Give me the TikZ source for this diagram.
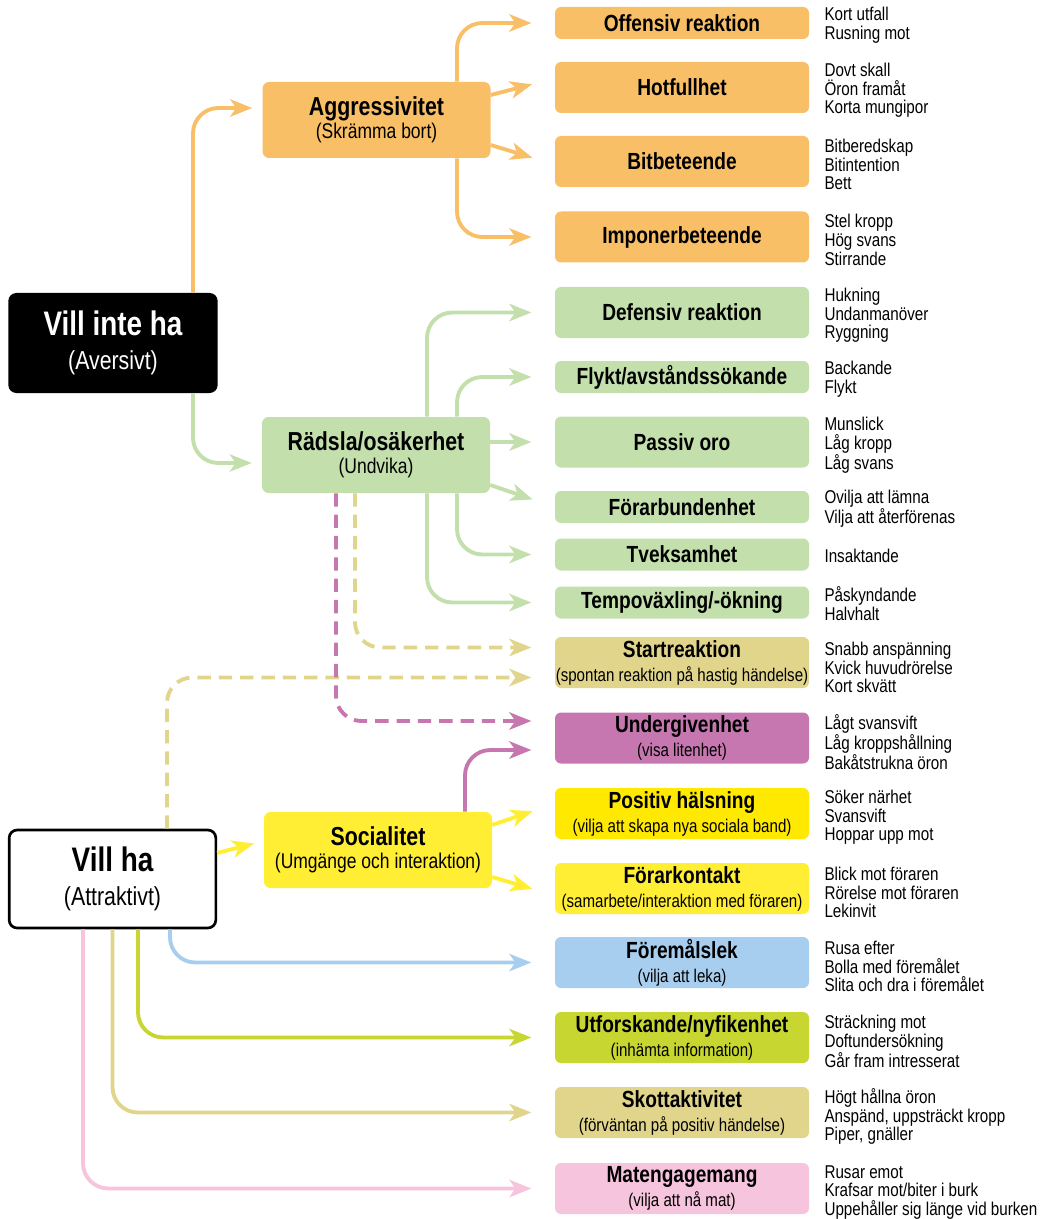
\documentclass[tikz,border=0pt]{standalone}
\usepackage{fontspec}
\setmainfont{Liberation Sans}[FakeStretch=0.82]
\usetikzlibrary{arrows.meta,calc}
\definecolor{cOr}{HTML}{F9BF66}
\definecolor{cGr}{HTML}{C3DFAC}
\definecolor{cKh}{HTML}{E1D58B}
\definecolor{cMa}{HTML}{C677B0}
\definecolor{cYb}{HTML}{FFE900}
\definecolor{cYe}{HTML}{FFEE33}
\definecolor{cBl}{HTML}{A7CEEE}
\definecolor{cLi}{HTML}{C7D630}
\definecolor{cPi}{HTML}{F6C4DD}
\newcommand\fBig{\fontsize{25.5}{25}\selectfont\bfseries}
\newcommand\fBigSub{\fontsize{19.5}{25}\selectfont}
\newcommand\fMid{\fontsize{19.5}{17.5}\selectfont\bfseries}
\newcommand\fMidSub{\fontsize{16}{17.5}\selectfont}
\newcommand\fRt{\fontsize{17.5}{18}\selectfont\bfseries}
\newcommand\fRs{\fontsize{13.8}{18}\selectfont}
\newcommand\fDesc{\fontsize{13.9}{14}\selectfont}
\begin{document}
\begin{tikzpicture}[x=0.75pt,y=-0.75pt,
  bigbox/.style={rounded corners=6pt, minimum width=157pt, minimum height=75pt, inner sep=0pt, align=center, font=\fBigSub},
  midbox/.style={rounded corners=5pt, fill=#1, minimum width=171pt, minimum height=57pt, inner sep=0pt, align=center, font=\fMidSub},
  rbox/.style={rounded corners=4.5pt, fill=#1, minimum width=190.5pt, inner sep=0pt, align=center, font=\fRs},
  hA/.style={minimum height=24pt},
  hB/.style={minimum height=38.25pt},
  desc/.style={anchor=west, align=left, inner sep=0pt, font=\fDesc},
  ln/.style={draw=#1, line width=2.9pt, rounded corners=19pt, -{Stealth[length=16.5pt,width=13pt,inset=4.5pt]}},
  dsh/.style={dash pattern=on 10pt off 6pt},
  rshort/.style={shorten >=17.5pt},
  mshort/.style={shorten >=7.5pt}]
\useasboundingbox (0,0) rectangle (1054,1219);

% main nodes
\node[bigbox, fill=black, text=white] (vi) at (113,343) {{\fBig Vill inte ha}\\(Aversivt)};
\node[bigbox, draw=black, line width=2pt, fill=white, minimum width=155pt, minimum height=73.5pt] (vh) at (112.5,879) {{\fBig Vill ha}\\(Attraktivt)};
\node[midbox=cOr] (agg) at (376.5,120) {{\fMid Aggressivitet}\\(Skrämma bort)};
\node[midbox=cGr] (rad) at (376,455) {{\fMid Rädsla/osäkerhet}\\(Undvika)};
\node[midbox=cYe] (soc) at (378,850) {{\fMid Socialitet}\\(Umgänge och interaktion)};

% right boxes
\node[rbox=cOr, hA] (off) at (682,23) {{\fRt Offensiv reaktion}};
\node[rbox=cOr, hB] (hot) at (682,87.5) {{\fRt Hotfullhet}};
\node[rbox=cOr, hB] (bit) at (682,161.5) {{\fRt Bitbeteende}};
\node[rbox=cOr, hB] (imp) at (682,237) {{\fRt Imponerbeteende}};
\node[rbox=cGr, hB] (def) at (682,312.5) {{\fRt Defensiv reaktion}};
\node[rbox=cGr, hA] (fly) at (682,377) {{\fRt Flykt/avståndssökande}};
\node[rbox=cGr, hB] (pas) at (682,442) {{\fRt Passiv oro}};
\node[rbox=cGr, hA] (forb) at (682,507) {{\fRt Förarbundenhet}};
\node[rbox=cGr, hA] (tve) at (682,554.5) {{\fRt Tveksamhet}};
\node[rbox=cGr, hA] (tem) at (682,602.5) {{\fRt Tempoväxling/-ökning}};
\node[rbox=cKh, hB] (sta) at (682,662.5) {{\fRt Startreaktion}\\(spontan reaktion på hastig händelse)};
\node[rbox=cMa, hB] (und) at (682,738) {{\fRt Undergivenhet}\\(visa litenhet)};
\node[rbox=cYb, hB] (pos) at (682,813.5) {{\fRt Positiv hälsning}\\(vilja att skapa nya sociala band)};
\node[rbox=cYe, hB] (fk) at (682,888.5) {{\fRt Förarkontakt}\\(samarbete/interaktion med föraren)};
\node[rbox=cBl, hB] (fol) at (682,962.5) {{\fRt Föremålslek}\\(vilja att leka)};
\node[rbox=cLi, hB] (utf) at (682,1037.5) {{\fRt Utforskande/nyfikenhet}\\(inhämta information)};
\node[rbox=cKh, hB] (sko) at (682,1112.5) {{\fRt Skottaktivitet}\\(förväntan på positiv händelse)};
\node[rbox=cPi, hB] (mat) at (682,1188.5) {{\fRt Matengagemang}\\(vilja att nå mat)};

% descriptions
\node[desc] (doff) at ($(off.east)+(15,2)$) {Kort utfall\\Rusning mot};
\node[desc] (dhot) at ($(hot.east)+(15,3)$) {Dovt skall\\Öron framåt\\Korta mungipor};
\node[desc] (dbit) at ($(bit.east)+(15,3)$) {Bitberedskap\\Bitintention\\Bett};
\node[desc] (dimp) at ($(imp.east)+(15,3)$) {Stel kropp\\Hög svans\\Stirrande};
\node[desc] (ddef) at ($(def.east)+(15,3)$) {Hukning\\Undanmanöver\\Ryggning};
\node[desc] (dfly) at ($(fly.east)+(15,2)$) {Backande\\Flykt};
\node[desc] (dpas) at ($(pas.east)+(15,3)$) {Munslick\\Låg kropp\\Låg svans};
\node[desc] (dforb) at ($(forb.east)+(15,2)$) {Ovilja att lämna\\Vilja att återförenas};
\node[desc] (dtve) at ($(tve.east)+(15,1)$) {Insaktande};
\node[desc] (dtem) at ($(tem.east)+(15,1)$) {Påskyndande\\Halvhalt};
\node[desc] (dsta) at ($(sta.east)+(15,5)$) {Snabb anspänning\\Kvick huvudrörelse\\Kort skvätt};
\node[desc] (dund) at ($(und.east)+(15,4)$) {Lågt svansvift\\Låg kroppshållning\\Bakåtstrukna öron};
\node[desc] (dpos) at ($(pos.east)+(15,4)$) {Söker närhet\\Svansvift\\Hoppar upp mot};
\node[desc] (dfk) at ($(fk.east)+(15,4)$) {Blick mot föraren\\Rörelse mot föraren\\Lekinvit};
\node[desc] (dfol) at ($(fol.east)+(15,4)$) {Rusa efter\\Bolla med föremålet\\Slita och dra i föremålet};
\node[desc] (dutf) at ($(utf.east)+(15,4)$) {Sträckning mot\\Doftundersökning\\Går fram intresserat};
\node[desc] (dsko) at ($(sko.east)+(15,4)$) {Högt hållna öron\\Anspänd, uppsträckt kropp\\Piper, gnäller};
\node[desc] (dmat) at ($(mat.east)+(15,4)$) {Rusar emot\\Krafsar mot/biter i burk\\Uppehåller sig länge vid burken};

% connectors from Vill inte ha
\draw[ln=cOr, mshort] ($(vi.north)+(80,0)$) |- ($(agg.west)+(0,-12)$);
\draw[ln=cGr, mshort] ($(vi.south)+(80,0)$) |- ($(rad.west)+(0,8)$);

% from Aggressivitet
\draw[ln=cOr, rshort] ($(agg.north)+(80.5,0)$) |- (off.west);
\draw[ln=cOr, rshort] ($(agg.east)+(0,-25)$) -- ($(hot.west)+(0,-9)$);
\draw[ln=cOr, rshort] ($(agg.east)+(0,25)$) -- ($(bit.west)+(0,3)$);
\draw[ln=cOr, rshort] ($(agg.south)+(80.5,0)$) |- (imp.west);

% from Rädsla
\draw[ln=cGr, rshort] ($(rad.north)+(51,0)$) |- (def.west);
\draw[ln=cGr, rshort] ($(rad.north)+(81,0)$) |- (fly.west);
\draw[ln=cGr, rshort] (pas.west -| rad.east) -- (pas.west);
\draw[ln=cGr, rshort] ($(rad.east)+(0,30)$) -- (forb.west);
\draw[ln=cGr, rshort] ($(rad.south)+(81,0)$) |- (tve.west);
\draw[ln=cGr, rshort] ($(rad.south)+(51,0)$) |- (tem.west);
\draw[ln=cKh, dsh, rshort] ($(rad.south)+(-21,0)$) |- ($(sta.west)+(0,-15)$);
\draw[ln=cKh, dsh, rshort] ($(vh.north)+(54.5,0)$) |- ($(sta.west)+(0,15)$);
\draw[ln=cMa, dsh, rshort] ($(rad.south)+(-40,0)$) |- ($(und.west)+(0,-17)$);

% from Vill ha / Socialitet
\draw[ln=cYe, mshort] ($(vh.east)+(0,-26)$) -- ($(soc.west)+(0,-9)$);
\draw[ln=cMa, rshort] ($(soc.north)+(87,0)$) |- ($(und.west)+(0,12)$);
\draw[ln=cYe, rshort] ($(soc.east)+(0,-25)$) -- ($(pos.west)+(0,-10)$);
\draw[ln=cYe, rshort] ($(soc.east)+(0,27)$) -- ($(fk.west)+(0,7)$);
\draw[ln=cBl, rshort] ($(vh.south)+(57.5,0)$) |- (fol.west);
\draw[ln=cLi, rshort] ($(vh.south)+(25.5,0)$) |- (utf.west);
\draw[ln=cKh, rshort] (vh.south) |- (sko.west);
\draw[ln=cPi, rshort] ($(vh.south)+(-29.5,0)$) |- (mat.west);
\end{tikzpicture}
\end{document}
